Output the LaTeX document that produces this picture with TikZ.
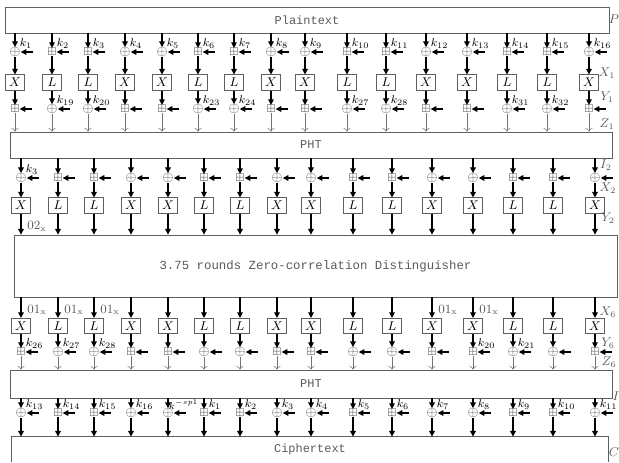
\documentclass[tikz,border=0pt]{standalone}
\usepackage{amsmath,amssymb}
\usepackage{fontspec}
\setmonofont{Liberation Mono}
\usepackage{tikz}
\usetikzlibrary{arrows.meta,positioning,calc}
\definecolor{framecolor}{RGB}{95,95,95}
\definecolor{opcolor}{RGB}{70,70,70}
\definecolor{labelcolor}{RGB}{90,90,90}

\begin{document}
\begin{tikzpicture}[
    x=0.025cm, y=-0.025cm,
    bigbox/.style={rectangle, draw=framecolor, line width=0.6pt, inner sep=0pt, minimum width=15.05cm, font=\ttfamily\fontsize{8.5}{10}\selectfont, text=labelcolor},
    sbox/.style={rectangle, draw=framecolor, fill=white, line width=0.6pt, minimum width=0.46cm, minimum height=0.38cm, inner sep=0pt, font=\small},
    xorop/.style={inner sep=0pt, font=\normalsize, text=opcolor},
    addop/.style={inner sep=0pt, font=\footnotesize, text=opcolor},
    arrow/.style={-{Triangle[length=4pt,width=4pt]}, line width=0.8pt},
    hollow/.style={-{To[length=2.5pt,width=5pt]}, black!55, line width=0.4pt},
    keylbl/.style={anchor=south west, inner sep=0.5pt, font=\footnotesize},
    sidelbl/.style={inner sep=0pt, font=\small, text=labelcolor}
]
\useasboundingbox (0,0) rectangle (619,462);

% the five wide blocks
\node[bigbox, minimum width=15.1cm, minimum height=0.65cm] (pt) at (307,20) {Plaintext};
\node[bigbox, minimum height=0.65cm] (pht1) at (311,145) {PHT};
\node[bigbox, minimum width=15.075cm, minimum height=1.55cm, font=\ttfamily\fontsize{8.8}{10}\selectfont] (dist) at (315.5,266) {3.75 rounds Zero-correlation Distinguisher};
\node[bigbox, minimum height=0.7cm] (pht2) at (311,384) {PHT};
\node[bigbox, draw=none, minimum width=14.9cm, minimum height=0.625cm] (ct) at (310,449.5) {Ciphertext};
\draw[framecolor, line width=0.6pt] (ct.south west) -- (ct.north west) -- (ct.north east) -- (ct.south east);

% first round
\foreach \x [count=\i] in {15,52,88,125,162,198,234,271,305,347,386,426,467,507,547,589} {
  \pgfmathtruncatemacro\m{mod(\i,4)}
  \ifnum\m<2
    \node[xorop] (o1-\i) at (\x,52) {$\oplus$};
    \node[sbox] (b1-\i) at (\x,82.5) {$X$};
    \node[addop] (o2-\i) at (\x,109) {$\boxplus$};
  \else
    \node[addop] (o1-\i) at (\x,52) {$\boxplus$};
    \node[sbox] (b1-\i) at (\x,82.5) {$L$};
    \node[xorop] (o2-\i) at (\x,109) {$\oplus$};
    \pgfmathtruncatemacro\kk{17+\i}
    \node[keylbl] (k2-\i) at ($(o2-\i)+(4,-3)$) {$k_{\kk}$};
  \fi
  \node[keylbl] (k1-\i) at ($(o1-\i)+(4,-3)$) {$k_{\i}$};
  \draw[arrow] (o1-\i |- pt.south) -- (o1-\i);
  \draw[arrow] ($(o1-\i.east)+(12,0)$) -- (o1-\i.east);
  \draw[arrow] (o1-\i) -- (b1-\i);
  \draw[arrow] (b1-\i) -- (o2-\i);
  \draw[arrow] ($(o2-\i.east)+(12,0)$) -- (o2-\i.east);
  \draw[hollow] (o2-\i) -- (o2-\i |- pht1.north);
}

% second round, before the distinguisher
\foreach \x [count=\i] in {15,52,88,125,162,198,234,271,305,347,386,426,467,507,547,589} {
  \pgfmathsetmacro\xx{\x+6}
  \pgfmathtruncatemacro\m{mod(\i,4)}
  \ifnum\m<2
    \node[xorop] (o3-\i) at (\xx,178) {$\oplus$};
    \node[sbox] (b2-\i) at (\xx,205.5) {$X$};
  \else
    \node[addop] (o3-\i) at (\xx,178) {$\boxplus$};
    \node[sbox] (b2-\i) at (\xx,205.5) {$L$};
  \fi
  \draw[arrow] (o3-\i |- pht1.south) -- (o3-\i);
  \draw[arrow] ($(o3-\i.east)+(12,0)$) -- (o3-\i.east);
  \draw[arrow] (o3-\i) -- (b2-\i);
  \draw[arrow] (b2-\i) -- (b2-\i |- dist.north);
}
\node[keylbl] (k3-1) at ($(o3-1)+(4,-3)$) {$k_{3}$};
\node[anchor=west, inner sep=0pt, font=\small, text=labelcolor] (c02) at ($(b2-1.south)+(6,13)$) {$02_{\mathrm{x}}$};

% round after the distinguisher
\foreach \x [count=\i] in {15,52,88,125,162,198,234,271,305,347,386,426,467,507,547,589} {
  \pgfmathsetmacro\xx{\x+6}
  \pgfmathtruncatemacro\m{mod(\i,4)}
  \ifnum\m<2
    \node[sbox] (b3-\i) at (\xx,326) {$X$};
    \node[addop] (o4-\i) at (\xx,352) {$\boxplus$};
  \else
    \node[sbox] (b3-\i) at (\xx,326) {$L$};
    \node[xorop] (o4-\i) at (\xx,352) {$\oplus$};
  \fi
  \draw[arrow] (b3-\i |- dist.south) -- (b3-\i);
  \draw[arrow] (b3-\i) -- (o4-\i);
  \draw[arrow] ($(o4-\i.east)+(12,0)$) -- (o4-\i.east);
  \draw[hollow] (o4-\i) -- (o4-\i |- pht2.north);
}
\foreach \c in {1,2,3,12,13}
  \node[anchor=west, inner sep=0pt, font=\small, text=labelcolor] (c01-\c) at ($(b3-\c.north)+(6,-8)$) {$01_{\mathrm{x}}$};
\foreach \c/\k in {1/26,2/27,3/28,13/20,14/21}
  \node[keylbl] (k4-\c) at ($(o4-\c)+(4,-3)$) {$k_{\k}$};

% last key addition
\foreach \x/\kl [count=\i] in {15/_{13},52/_{14},88/_{15},125/_{16},162/^{-sp1},198/_{1},234/_{2},271/_{3},305/_{4},347/_{5},386/_{6},426/_{7},467/_{8},507/_{9},547/_{10},589/_{11}} {
  \pgfmathsetmacro\xx{\x+6}
  \pgfmathtruncatemacro\m{mod(\i,4)}
  \ifnum\m<2
    \node[xorop] (o5-\i) at (\xx,413) {$\oplus$};
  \else
    \node[addop] (o5-\i) at (\xx,413) {$\boxplus$};
  \fi
  \ifnum\i=5
    \node[keylbl, font=\scriptsize] (k5-\i) at ($(o5-\i)+(0,-3)$) {$k\kl$};
  \else
    \node[keylbl] (k5-\i) at ($(o5-\i)+(4,-3)$) {$k\kl$};
  \fi
  \draw[arrow] (o5-\i |- pht2.south) -- (o5-\i);
  \draw[arrow] ($(o5-\i.east)+(12,0)$) -- (o5-\i.east);
  \draw[arrow] (o5-\i) -- (o5-\i |- ct.north);
}

% state names on the right
\node[sidelbl] (sP) at (614,19) {$P$};
\node[sidelbl] (sX1) at (607,73) {$X_1$};
\node[sidelbl] (sY1) at (607,97) {$Y_1$};
\node[sidelbl] (sZ1) at (607,124) {$Z_1$};
\node[sidelbl] (sI2) at (606,165) {$I_2$};
\node[sidelbl] (sX2) at (608,188) {$X_2$};
\node[sidelbl] (sY2) at (608,218) {$Y_2$};
\node[sidelbl] (sX6) at (608,312) {$X_6$};
\node[sidelbl] (sY6) at (608,343) {$Y_6$};
\node[sidelbl] (sZ6) at (609,362) {$Z_6$};
\node[sidelbl] (sI) at (616,396) {$I$};
\node[sidelbl] (sC) at (614,452) {$C$};

\end{tikzpicture}
\end{document}
